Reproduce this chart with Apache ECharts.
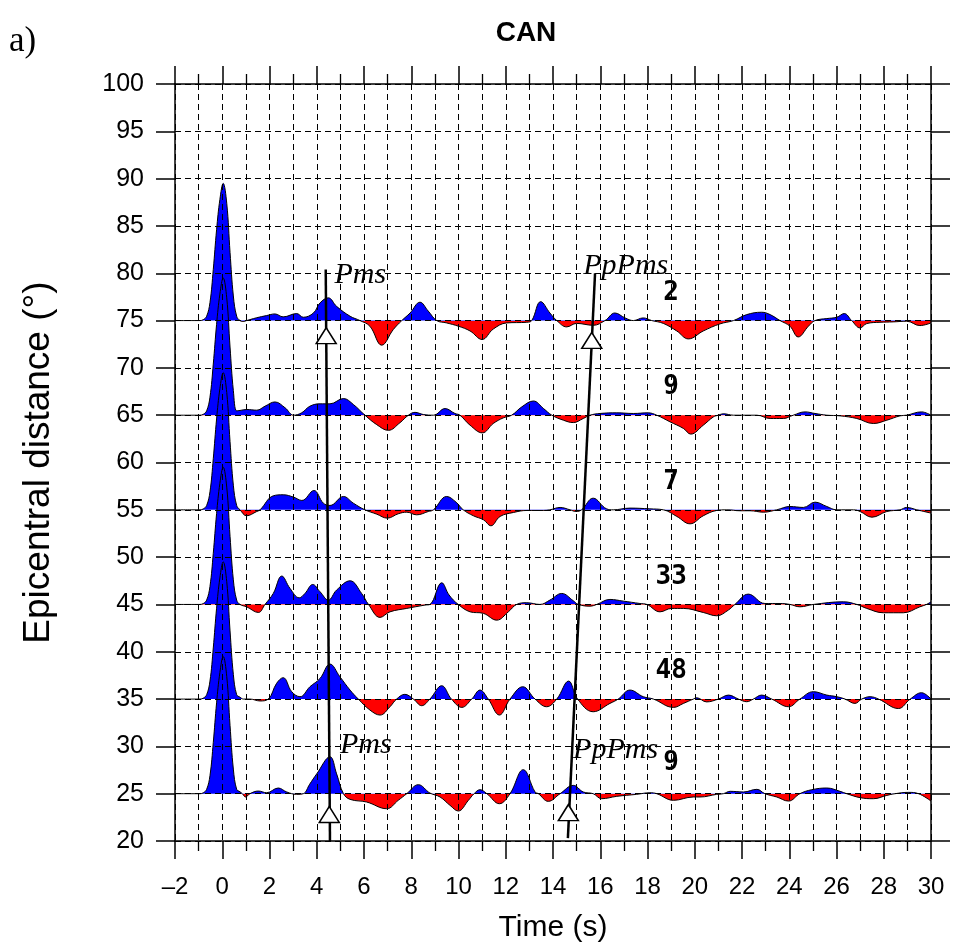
<!DOCTYPE html>
<html>
<head>
<meta charset="utf-8">
<script src="https://cdn.jsdelivr.net/npm/echarts@6/dist/echarts.min.js"></script>
<style>
html,body{margin:0;padding:0;background:#fff;}
#chart{width:953px;height:950px;}
</style>
</head>
<body>
<div id="chart"></div>
<script>
// ---------- data ----------
const baselines = [75, 65, 55, 45, 35, 25];          // epicentral distance of each trace (deg)
const traceCounts = ['2', '9', '7', '33', '48', '9'];  // number of traces stacked
const xTickValues = [-2, 30, 2];                       // min, max, step (s)
const yTickValues = [20, 100, 5];                      // min, max, step (deg)

// direct P pulse (time s, amplitude in deg units)
const pulse = [[-2,0],[-0.94,0],[-0.8,0.1],[-0.66,0.46],[-0.52,1.9],[-0.38,5.4],[-0.24,9.6],[-0.1,12.8],[0.04,14.5],[0.19,12.4],[0.33,7.2],[0.47,2.6],[0.61,0.46]];

const trace75 = [[0.75,0],[0.89,-0.1],[1.03,0],[1.17,0.1],[1.46,0.3],[1.88,0.53],[2.23,0.7],[2.58,0.39],[3.15,0.74],[3.43,0.35],[3.86,0.8],[4.14,1.87],[4.49,2.4],[4.84,1.5],[5.41,0.46],[5.83,0],[6.25,-0.6],[6.75,-2.6],[7.24,-0.95],[7.6,0],[7.95,0.8],[8.37,1.94],[8.72,1.0],[9.08,0],[9.5,-0.25],[10.0,-0.6],[10.49,-1.1],[11.0,-2.0],[11.47,-0.9],[12.04,-0.25],[12.89,-0.18],[13.1,0],[13.48,2.0],[13.87,0.8],[14.16,0],[14.58,-0.67],[15.0,-0.3],[15.7,-0.5],[16.2,0],[16.62,0.8],[17.05,0.28],[17.4,0],[17.82,0.28],[18.18,0],[18.67,-0.3],[19.24,-1.1],[19.73,-1.94],[20.36,-1.1],[21.07,-0.35],[21.64,0],[22.2,0.63],[22.83,0.88],[23.19,0.63],[23.61,0],[24.03,-0.6],[24.38,-1.73],[24.81,-0.6],[25.09,0],[25.59,0.21],[26.01,0.35],[26.33,0.74],[26.64,0],[27.0,-0.78],[27.28,-0.32],[27.84,-0.18],[28.4,-0.14],[28.97,-0.07],[29.53,-0.53],[30,-0.25]];

const trace65 = [[0.75,0.5],[1.03,0.6],[1.46,0.53],[1.81,0.95],[2.23,1.4],[2.66,0.78],[3.02,0],[3.36,0.25],[3.71,0.95],[4.14,1.2],[4.56,1.2],[5.13,1.76],[5.55,1.13],[6.04,0],[6.54,-1.0],[7.03,-1.6],[7.52,-0.8],[7.88,0],[8.16,0.3],[8.51,0.07],[8.94,0],[9.43,0.7],[9.85,0.18],[10.06,0],[10.49,-1.06],[11.01,-1.87],[11.47,-0.88],[11.9,-0.28],[12.25,0],[12.68,0.88],[13.17,1.5],[13.6,0.7],[13.95,0],[14.44,-0.53],[14.86,-0.78],[15.28,-0.35],[15.57,0],[15.99,0.18],[16.7,0.25],[17.4,0.18],[18.03,0.25],[18.39,0],[18.95,-0.7],[19.52,-1.4],[19.83,-2.0],[20.36,-1.06],[20.79,-0.18],[21.0,0],[21.21,0.15],[21.64,0],[22.63,0],[23.19,-0.35],[23.75,-0.35],[24.17,0],[24.67,0.35],[25.09,0.18],[25.59,0],[26.15,-0.07],[26.86,-0.35],[27.56,-0.88],[28.13,-0.53],[28.69,-0.07],[28.97,0],[29.6,0.35],[30,0]];

const trace55 = [[0.75,0],[1.03,-0.63],[1.46,-0.18],[1.6,0],[2.16,1.48],[2.58,1.59],[3.02,1.34],[3.37,0.99],[3.88,2.04],[4.28,0.7],[4.56,0.46],[5.13,1.41],[5.55,0.7],[6.04,0],[6.54,-0.46],[6.99,-0.88],[7.45,-0.42],[7.81,-0.25],[8.23,-0.53],[8.72,-0.18],[8.94,0],[9.5,1.41],[9.9,0.8],[10.2,0],[10.63,-0.63],[11.06,-1.06],[11.37,-1.69],[11.76,-0.7],[12.33,-0.28],[12.89,-0.07],[13.6,-0.07],[13.87,0],[14.3,0.25],[14.72,0],[14.97,-0.18],[15.21,0],[15.7,1.23],[16.27,0.1],[16.55,0],[17.26,0.18],[18.1,0.1],[18.67,0],[19.24,-0.7],[19.8,-1.48],[20.36,-0.63],[20.93,-0.07],[21.36,0],[21.92,-0.1],[22.34,-0.1],[22.91,-0.25],[23.47,0],[24.03,0.35],[24.6,0.25],[25.09,0.81],[25.59,0.35],[26.01,0],[26.72,0],[27.0,-0.18],[27.5,-0.78],[28.13,-0.18],[28.69,0],[28.97,0.25],[29.4,0],[30,-0.35]];

const trace45 = [[0.75,0],[1.03,-0.25],[1.53,-0.85],[1.81,0],[2.16,1.16],[2.52,3.0],[2.87,1.69],[3.26,0.7],[3.5,1.16],[3.83,2.11],[4.14,1.34],[4.49,0.46],[4.84,1.52],[5.41,2.5],[5.9,1.16],[6.19,0],[6.68,-1.37],[7.1,-0.78],[7.81,-0.42],[8.58,-0.07],[8.79,0],[9.29,2.29],[9.6,1.0],[9.99,0],[10.49,-0.78],[11.06,-0.95],[11.62,-1.66],[12.11,-0.78],[12.46,0],[12.89,0.18],[13.45,0],[13.87,0.46],[14.37,1.16],[14.86,0.39],[15.07,0],[15.57,-0.18],[15.85,0],[16.41,0.53],[16.98,0.35],[17.68,0.1],[17.97,0],[18.53,-0.78],[19.02,-0.42],[19.52,-0.42],[20.36,-0.85],[20.93,-1.2],[21.42,-0.6],[21.7,0],[22.27,1.09],[22.97,0.1],[23.61,0.1],[24.03,0],[24.45,-0.25],[25.02,0],[26.29,0.28],[26.86,0],[27.28,-0.42],[27.99,-0.88],[28.83,-0.88],[29.53,-0.25],[29.81,0],[30,0.28]];

const trace35 = [[0.75,0.2],[0.9,0],[1.17,0],[1.6,-0.2],[1.95,0],[2.3,1.66],[2.58,2.26],[2.94,0.78],[3.29,0.25],[3.71,1.3],[4.14,2.18],[4.56,3.7],[4.98,2.36],[5.41,0.95],[5.76,0],[6.25,-1.16],[6.68,-1.69],[7.1,-0.81],[7.38,0],[7.73,0.5],[8.09,0],[8.44,-0.7],[8.79,0],[9.29,1.41],[9.7,0],[10.14,-0.88],[10.56,0],[10.91,0.95],[11.26,0],[11.73,-1.69],[12.18,0],[12.72,1.3],[13.24,0],[13.73,-0.81],[14.16,0],[14.66,1.9],[15.04,0],[15.7,-1.34],[16.41,-0.46],[16.76,0],[17.26,0.95],[17.82,0.25],[18.25,0],[19.1,-0.88],[19.52,-0.46],[19.94,0],[20.08,0.14],[20.5,-0.3],[21.0,0],[21.43,0.42],[21.85,0],[22.2,-0.28],[22.48,0],[22.83,0.42],[23.26,0],[23.97,-0.81],[24.45,0],[25.02,0.78],[25.59,0.42],[26.01,0.25],[26.36,0],[26.78,-0.46],[27.07,0],[27.42,0.25],[27.78,0],[28.62,-1.0],[29.12,0],[29.6,0.67],[30,0]];

const trace25 = [[0.75,0.2],[0.85,0],[0.99,-0.35],[1.17,0],[1.53,0.28],[1.88,0.1],[2.37,0.6],[2.73,0.18],[3.15,-0.07],[3.43,0],[3.7,1.0],[4.0,2.1],[4.56,3.9],[4.84,2.1],[5.13,0],[5.41,-0.6],[6.11,-0.88],[6.96,-1.59],[7.45,-0.7],[7.81,0],[8.3,0.95],[8.79,0.07],[9.22,-0.35],[9.64,-1.23],[9.99,-1.83],[10.42,-0.7],[10.66,0],[10.91,0.42],[11.2,0],[11.73,-1.06],[12.18,0],[12.74,2.54],[13.24,0.18],[13.38,0],[13.8,-0.81],[14.3,0],[14.86,0.88],[15.28,0.18],[15.7,0],[16.06,-0.53],[16.7,-0.28],[17.54,-0.07],[18.1,0.1],[18.39,0],[19.1,-0.7],[19.94,-0.35],[20.22,-0.35],[20.93,-0.07],[21.21,0],[21.5,0.25],[22.06,0.18],[22.63,0.46],[22.97,0],[23.47,-0.35],[23.97,-0.78],[24.45,0],[24.95,0.42],[25.59,0.6],[26.15,0.25],[26.43,0],[27.0,-0.42],[27.56,-0.53],[28.13,-0.18],[28.48,0],[29.05,0.14],[29.47,0],[30,-0.78]];

const traces = [trace75, trace65, trace55, trace45, trace35, trace25];

// phase move-out lines (time s, distance deg) and arrival markers
const pmsLine = [[4.38, 80.4], [4.56, 20.0]];
const ppPmsLine = [[15.78, 80.0], [14.63, 20.3]];
const arrivalMarks = [[4.4, 73.4], [4.53, 22.8], [15.64, 72.9], [14.65, 23.0]];
const phaseLabels = [['Pms', 4.75, 79.8], ['Pms', 4.98, 30.1], ['PpPms', 15.28, 80.8], ['PpPms', 14.85, 29.6]];
const countLabelTimes = [19.0, 19.0, 19.0, 19.0, 19.0, 19.0];
const countLabelOffsets = [2.9, 2.9, 2.9, 2.9, 2.9, 3.2];

// ---------- chart ----------
const chart = echarts.init(document.getElementById('chart'), null, {renderer: 'canvas'});
const FONT = 'Liberation Sans, Arial, Helvetica, sans-serif';
const dash = {color: '#000', width: 1, type: [6, 4]};

const seriesList = [];
const visualMaps = [];
// draw lowest trace first so upper traces lie on top
for (let k = traces.length - 1; k >= 0; k--) {
  const b = baselines[k];
  const full = pulse.concat(traces[k]);
  visualMaps.push({
    type: 'piecewise', show: false, seriesIndex: seriesList.length, dimension: 1,
    pieces: [{gte: b - 100, lt: b, color: '#ff0000'}, {gte: b, lte: b + 100, color: '#0000ff'}]
  });
  seriesList.push({
    type: 'line', data: full.map(p => [p[0], b + p[1]]),
    smooth: 0.4, showSymbol: false, symbol: 'none', z: 2,
    lineStyle: {color: '#000', width: 1},
    areaStyle: {origin: b, opacity: 1},
    silent: true
  });
}

seriesList.push({type: 'line', data: pmsLine, symbol: 'none', lineStyle: {color: '#000', width: 2.5}, z: 20});
seriesList.push({type: 'line', data: ppPmsLine, symbol: 'none', lineStyle: {color: '#000', width: 2.5}, z: 20});
seriesList.push({
  type: 'scatter', data: arrivalMarks, symbol: 'triangle', symbolSize: [20, 16], z: 21,
  itemStyle: {color: '#fff', borderColor: '#000', borderWidth: 1.5, opacity: 1}
});
seriesList.push({
  type: 'scatter', symbolSize: 0, z: 22, itemStyle: {opacity: 1},
  data: phaseLabels.map(p => ({name: p[0], value: [p[1], p[2]]})),
  label: {show: true, position: 'right', distance: 0, formatter: '{b}', color: '#000',
    fontFamily: 'Liberation Serif, Times New Roman, serif', fontStyle: 'italic', fontSize: 30}
});
seriesList.push({
  type: 'scatter', symbolSize: 0, z: 22, itemStyle: {opacity: 1},
  data: traceCounts.map((c, i) => ({name: c, value: [countLabelTimes[i], baselines[i] + countLabelOffsets[i]]})),
  label: {show: true, position: 'inside', formatter: '{b}', color: '#000', textBorderWidth: 0,
    fontFamily: 'DejaVu Sans Mono, monospace', fontWeight: 'bold', fontSize: 26}
});

const xCommon = {
  type: 'value', min: xTickValues[0], max: xTickValues[1], interval: xTickValues[2],
  axisLine: {show: true, onZero: false, lineStyle: {color: '#000', width: 1.5}},
  axisTick: {show: true, length: 18, lineStyle: {color: '#000', width: 1.5}},
  minorTick: {show: true, splitNumber: 2, length: 10, lineStyle: {color: '#000', width: 1.3}},
  z: 10
};
const yCommon = {
  type: 'value', min: yTickValues[0], max: yTickValues[1], interval: yTickValues[2],
  axisLine: {show: true, onZero: false, lineStyle: {color: '#000', width: 1.5}},
  axisTick: {show: true, length: 19, lineStyle: {color: '#000', width: 1.5}},
  z: 10
};

chart.setOption({
  animation: false,
  backgroundColor: '#fff',
  title: {text: 'CAN', left: 521, top: 14, textAlign: 'center',
    textStyle: {fontFamily: FONT, fontWeight: 'bold', fontSize: 28, color: '#000'}},
  graphic: [{type: 'text', left: 9, top: 24,
    style: {text: 'a)', font: '35px "Liberation Serif", "Times New Roman", serif', fill: '#000'}}],
  grid: {left: 175, right: 22, top: 84, bottom: 109},
  visualMap: visualMaps,
  xAxis: [
    Object.assign({}, xCommon, {
      position: 'bottom',
      axisLabel: {fontFamily: FONT, fontSize: 24, color: '#000', margin: 34,
        formatter: v => (v < 0 ? '\u2013' + (-v) : String(v))},
      splitLine: {show: true, lineStyle: dash},
      minorSplitLine: {show: true, lineStyle: dash},
      name: 'Time (s)', nameLocation: 'middle', nameGap: 72,
      nameTextStyle: {fontFamily: FONT, fontSize: 30, color: '#000'}
    }),
    Object.assign({}, xCommon, {
      position: 'top', axisLabel: {show: false}, splitLine: {show: false}
    })
  ],
  yAxis: [
    Object.assign({}, yCommon, {
      position: 'left',
      axisLabel: {fontFamily: FONT, fontSize: 25, color: '#000', margin: 31},
      splitLine: {show: true, lineStyle: dash},
      name: 'Epicentral distance (\u00b0)', nameLocation: 'middle', nameGap: 118, nameRotate: 90,
      nameTextStyle: {fontFamily: FONT, fontSize: 37, color: '#000'}
    }),
    Object.assign({}, yCommon, {
      position: 'right', axisLabel: {show: false}, splitLine: {show: false}
    })
  ],
  series: seriesList
});
</script>
</body>
</html>
